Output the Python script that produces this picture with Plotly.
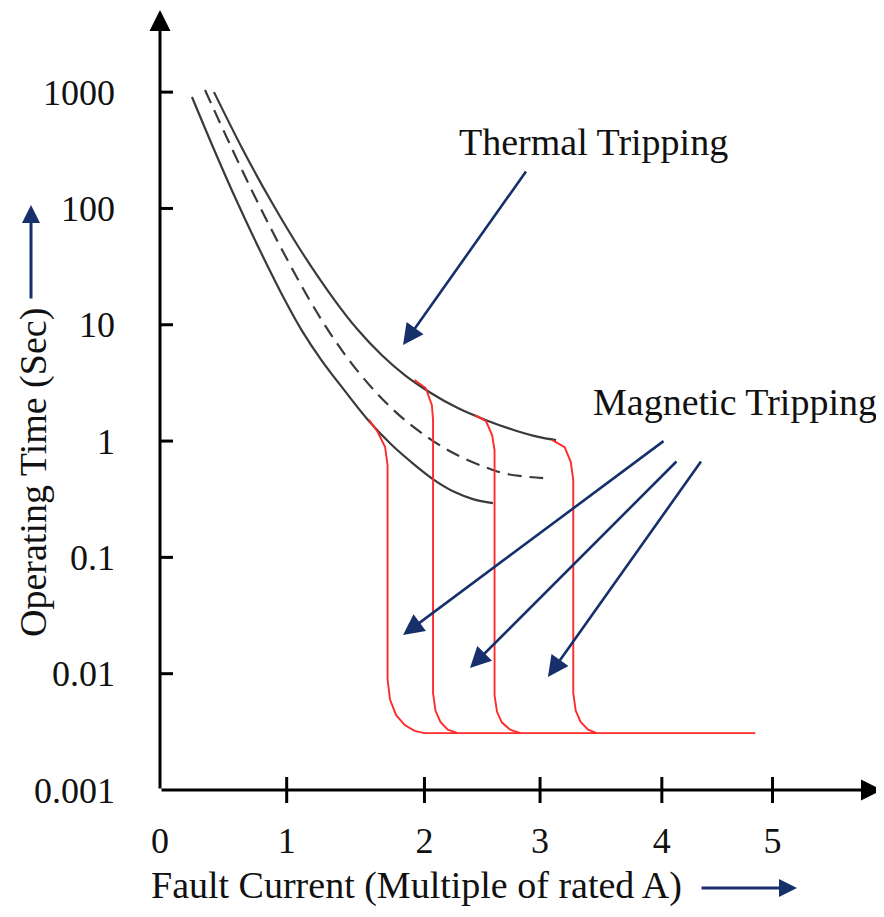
import plotly.graph_objects as go

# ---- data (x in drawing units along the current axis, y = operating time in s) ----
tick_pos = [0, 1.03, 2.15, 3.09, 4.08, 4.98]
tick_text = ["0", "1", "2", "3", "4", "5"]
y_ticks = [0.001, 0.01, 0.1, 1, 10, 100, 1000]
y_tick_text = ["0.001", "0.01", "0.1", "1", "10", "100", "1000"]

upper_x = [0.439, 0.675, 0.898, 1.142, 1.419, 1.610, 1.802, 1.990, 2.202, 2.421, 2.646, 2.881, 3.086, 3.220]
upper_y = [1000, 318, 118, 43.9, 16.3, 9.00, 5.49, 3.69, 2.59, 1.92, 1.52, 1.24, 1.08, 1.02]

lower_x = [0.260, 0.441, 0.620, 0.811, 1.015, 1.151, 1.312, 1.498, 1.691, 1.885, 2.072, 2.230, 2.396, 2.544, 2.707]
lower_y = [908, 318, 118, 43.9, 16.3, 9.00, 4.97, 2.74, 1.52, 0.924, 0.622, 0.462, 0.364, 0.317, 0.293]

mid_x = [0.366, 0.590, 0.785, 0.993, 1.216, 1.393, 1.568, 1.776, 1.989, 2.209, 2.416, 2.641, 2.823, 3.115]
mid_y = [1042, 318, 118, 43.9, 16.3, 8.15, 4.50, 2.49, 1.52, 1.02, 0.758, 0.598, 0.520, 0.481]

mag1_x = [1.70, 1.77, 1.83, 1.85, 1.85, 1.87, 1.92, 1.99, 2.07, 2.15, 4.84]
mag1_y = [1.52, 1.195, 0.888, 0.622, 0.0090, 0.0060, 0.00440, 0.00362, 0.00322, 0.00308, 0.00308]

mag2_x = [2.07, 2.16, 2.21, 2.22, 2.22, 2.24, 2.28, 2.34, 2.42]
mag2_y = [3.35, 2.86, 2.04, 1.52, 0.0068, 0.0048, 0.00385, 0.00330, 0.00308]

mag3_x = [2.56, 2.65, 2.70, 2.72, 2.72, 2.74, 2.78, 2.85, 2.93]
mag3_y = [1.67, 1.486, 1.126, 0.837, 0.0065, 0.0047, 0.00380, 0.00328, 0.00308]

mag4_x = [3.19, 3.29, 3.34, 3.36, 3.36, 3.38, 3.42, 3.48, 3.55]
mag4_y = [1.02, 0.888, 0.660, 0.462, 0.0068, 0.0048, 0.00385, 0.00330, 0.00308]

X_MAX = 5.87
Y_LOG_MIN, Y_LOG_MAX = -3, 3.706

FONT = "Liberation Serif"
NAVY = "#17306b"
BLACK = "#3a3a3a"
RED = "#ff2a2a"
TXT = "#111111"

# plot area on screen: x 160..882, y 10..790
def px(sx):
    return (sx - 160) / 722

def py(sy):
    return (790 - sy) / 780

fig = go.Figure()
for xs, ys in [(upper_x, upper_y), (lower_x, lower_y)]:
    fig.add_trace(go.Scatter(x=xs, y=ys, mode="lines",
                             line=dict(color=BLACK, width=2.2, shape="spline", smoothing=1.0), hoverinfo="skip"))
fig.add_trace(go.Scatter(x=mid_x, y=mid_y, mode="lines",
                         line=dict(color=BLACK, width=2.2, dash="14px,8px", shape="spline", smoothing=1.0), hoverinfo="skip"))
for xs, ys in [(mag1_x, mag1_y), (mag2_x, mag2_y), (mag3_x, mag3_y), (mag4_x, mag4_y)]:
    fig.add_trace(go.Scatter(x=xs, y=ys, mode="lines", line=dict(color=RED, width=1.9), hoverinfo="skip"))

annotations = []
# axes with arrow heads
annotations.append(dict(x=X_MAX, y=Y_LOG_MIN, xref="x", yref="y", ax=0, ay=Y_LOG_MIN, axref="x", ayref="y",
                        text="", showarrow=True, arrowhead=2, arrowsize=1.4, arrowwidth=3, arrowcolor="black", standoff=0))
annotations.append(dict(x=0, y=Y_LOG_MAX, xref="x", yref="y", ax=0, ay=Y_LOG_MIN, axref="x", ayref="y",
                        text="", showarrow=True, arrowhead=2, arrowsize=1.4, arrowwidth=3, arrowcolor="black", standoff=0))

# pointer arrows (tip, tail) in x / log10(y)
pointers = [((1.976, 0.825), (2.984, 2.330)),
            ((1.976, -1.668), (4.106, 0.009)),
            ((2.520, -1.952), (4.211, -0.163)),
            ((3.154, -2.029), (4.407, -0.163))]
for (tx, ty), (sx, sy) in pointers:
    annotations.append(dict(x=tx, y=ty, xref="x", yref="y", ax=sx, ay=sy, axref="x", ayref="y",
                            text="", showarrow=True, arrowhead=2, arrowsize=1.6, arrowwidth=2.6,
                            arrowcolor=NAVY, standoff=0))

def label(text, sx, sy, size, angle=0):
    return dict(x=px(sx), y=py(sy), xref="paper", yref="paper", xanchor="center", yanchor="middle",
                text=text, textangle=angle, showarrow=False, font=dict(family=FONT, size=size, color=TXT))

annotations.append(label("Thermal Tripping", 593, 142, 38))
annotations.append(label("Magnetic Tripping", 735, 402, 38))
annotations.append(label("Fault Current (Multiple of rated A)", 416, 885, 38))
annotations.append(label("Operating Time (Sec)", 33, 473, 38, angle=-90))
annotations.append(dict(x=px(797), y=py(888), xref="paper", yref="paper", ax=-97, ay=0,
                        text="", showarrow=True, arrowhead=2, arrowsize=1.2, arrowwidth=3, arrowcolor=NAVY, standoff=0))
annotations.append(dict(x=px(31), y=py(205), xref="paper", yref="paper", ax=0, ay=95,
                        text="", showarrow=True, arrowhead=2, arrowsize=1.2, arrowwidth=3, arrowcolor=NAVY, standoff=0))

shapes = []
for t in tick_pos[1:]:
    shapes.append(dict(type="line", xref="x", x0=t, x1=t, yref="paper", ysizemode="pixel", yanchor=0,
                       y0=-13, y1=13, line=dict(color="black", width=3)))
for v in y_ticks[1:]:
    shapes.append(dict(type="line", yref="y", y0=v, y1=v, xref="x", xsizemode="pixel", xanchor=0,
                       x0=-13, x1=13, line=dict(color="black", width=3)))

# page body adds an 8px offset, so the figure is 8px smaller and margins shifted
fig.update_layout(
    width=876, height=909,
    margin=dict(l=152, r=2, t=2, b=127),
    paper_bgcolor="white", plot_bgcolor="white",
    showlegend=False,
    annotations=annotations, shapes=shapes,
    xaxis=dict(range=[0, X_MAX], showgrid=False, zeroline=False, showline=False,
               tickmode="array", tickvals=tick_pos, ticktext=tick_text, ticks="",
               ticklabelstandoff=26, tickfont=dict(family=FONT, size=36, color=TXT)),
    yaxis=dict(type="log", range=[Y_LOG_MIN, Y_LOG_MAX], showgrid=False, zeroline=False, showline=False,
               tickmode="array", tickvals=y_ticks, ticktext=y_tick_text, ticks="",
               ticklabelstandoff=44, tickfont=dict(family=FONT, size=36, color=TXT)),
)

fig.write_html("out.html")
